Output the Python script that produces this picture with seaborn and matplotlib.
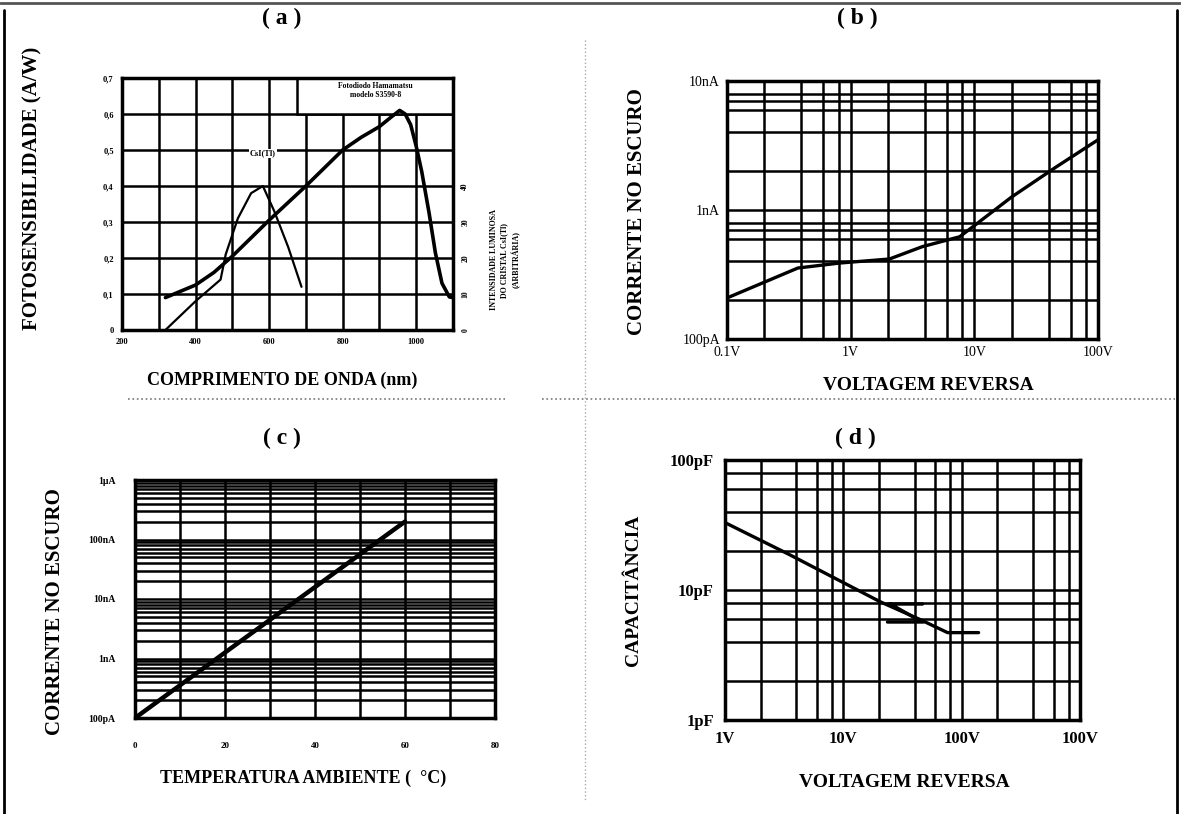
import numpy as np
import pandas as pd
import seaborn as sns
import matplotlib.pyplot as plt
from matplotlib.lines import Line2D
from matplotlib.patches import Rectangle

# (a) fotosensibilidade x comprimento de onda
comprimento_fotodiodo = [318, 400, 450, 500, 600, 700, 800, 850, 900, 930, 955, 970,
                         985, 1000, 1015, 1035, 1052, 1070, 1090, 1100]
sensibilidade_fotodiodo = [0.09, 0.125, 0.16, 0.205, 0.305, 0.40, 0.50, 0.535, 0.565, 0.59,
                           0.61, 0.60, 0.57, 0.51, 0.44, 0.325, 0.215, 0.13, 0.092, 0.09]
comprimento_csi = [318, 400, 468, 482, 515, 551, 583, 614, 652, 688]
intensidade_csi = [0, 8, 14, 21, 31, 38, 40, 33, 23, 12]
ticks_a_x = [200, 300, 400, 500, 600, 700, 800, 900, 1000, 1100]
rotulos_a_x = ["200", "", "400", "", "600", "", "800", "", "1000", ""]
ticks_a_y = [0, 0.1, 0.2, 0.3, 0.4, 0.5, 0.6, 0.7]
rotulos_a_y = ["0", "0,1", "0,2", "0,3", "0,4", "0,5", "0,6", "0,7"]
ticks_a_dir = [0, 10, 20, 30, 40]

# (b) corrente no escuro x voltagem reversa
tensao_b = [0.1, 0.374, 0.815, 2.06, 3.8, 7.6, 9.7, 20, 45.7, 100]
corrente_b = [2.08e-10, 3.55e-10, 3.88e-10, 4.17e-10, 5.2e-10, 6.2e-10, 7.4e-10,
              1.26e-9, 2.15e-9, 3.5e-9]
ticks_b_x = [0.1, 1, 10, 100]
rotulos_b_x = ["0.1V", "1V", "10V", "100V"]
ticks_b_y = [1e-10, 1e-9, 1e-8]
rotulos_b_y = ["100pA", "1nA", "10nA"]

# (c) corrente no escuro x temperatura
temperatura_c = [0, 60]
corrente_c = [1e-10, 2e-7]
ticks_c_x = [0, 10, 20, 30, 40, 50, 60, 70, 80]
rotulos_c_x = ["0", "", "20", "", "40", "", "60", "", "80"]
ticks_c_y = [1e-10, 1e-9, 1e-8, 1e-7, 1e-6]
rotulos_c_y = ["100pA", "1nA", "10nA", "100nA", "1µA"]

# (d) capacitância x voltagem reversa
tensao_d = [1, 3.55, 20.6, 45, 76, 139]
capacitancia_d = [33, 18.6, 8.1, 5.9, 4.7, 4.7]
marca_d_x = [23.6, 46.7, np.nan, 25.0, 43.0, np.nan, 23.6, 47.5]
marca_d_y = [7.8, 7.8, np.nan, 7.8, 5.9, np.nan, 5.67, 5.67]
ticks_d_x = [1, 10, 100, 1000]
rotulos_d_x = ["1V", "10V", "100V", "100V"]
ticks_d_y = [1, 10, 100]
rotulos_d_y = ["1pF", "10pF", "100pF"]

sns.set_style("white")
plt.rcParams['font.family'] = ['Liberation Serif', 'DejaVu Serif']
plt.rcParams['font.weight'] = 'bold'
plt.rcParams['text.color'] = 'black'
plt.rcParams['axes.labelcolor'] = 'black'
plt.rcParams['xtick.color'] = 'black'
plt.rcParams['ytick.color'] = 'black'

W, H = 1181, 814
fig = plt.figure(figsize=(W / 100, H / 100), dpi=100)


def eixo(l, t, r, b):
    return fig.add_axes([l / W, 1 - b / H, (r - l) / W, (b - t) / H])


def pos_rotulo(ax, px, py):
    bb = ax.get_position()
    return ((px / W - bb.x0) / bb.width, (1 - py / H - bb.y0) / bb.height)


def estilo(ax):
    ax.grid(True, which='both', color='black', lw=1.8)
    ax.set_axisbelow(True)
    for s in ax.spines.values():
        s.set_color('black')
        s.set_linewidth(2.5)
    ax.tick_params(which='both', length=0, colors='black')


def minor_log(inicio, fim, mult):
    return [m * 10.0 ** d for d in range(inicio, fim) for m in mult]


# ---------- (a)
ax_a = eixo(122, 78, 453, 330)
ax_a.set_xlim(200, 1100)
ax_a.set_ylim(0, 0.7)
ax_a.set_xticks(ticks_a_x, rotulos_a_x, fontsize=6)
ax_a.set_yticks(ticks_a_y, rotulos_a_y, fontsize=6)
estilo(ax_a)
ax_a.tick_params(pad=6)
ax_a.add_patch(Rectangle((675, 0.6), 425, 0.1, facecolor='white', edgecolor='black', lw=1.8, zorder=2))
ax_a.text(890, 0.665, "Fotodiodo Hamamatsu\nmodelo S3590-8", ha='center', va='center',
          fontsize=5.5, weight='bold', zorder=3, linespacing=1.2)
sns.lineplot(x=comprimento_fotodiodo, y=sensibilidade_fotodiodo, ax=ax_a, color='black',
             lw=2.6, sort=False, zorder=4)
ax_a.set_xlabel("COMPRIMENTO DE ONDA (nm)", fontsize=13, weight='bold')
ax_a.xaxis.set_label_coords(*pos_rotulo(ax_a, 282, 372))
ax_a.set_ylabel("FOTOSENSIBILIDADE (A/W)", fontsize=15, weight='bold')
ax_a.yaxis.set_label_coords(*pos_rotulo(ax_a, 42, 188))

ax_a2 = ax_a.twinx()
ax_a2.set_ylim(0, 70)
ax_a2.set_yticks(ticks_a_dir, [str(t) for t in ticks_a_dir], fontsize=5.5, rotation=90, va='center')
ax_a2.tick_params(length=0, pad=6)
ax_a2.grid(False)
for s in ax_a2.spines.values():
    s.set_visible(False)
sns.lineplot(x=comprimento_csi, y=intensidade_csi, ax=ax_a2, color='black', lw=1.6, sort=False)
ax_a2.text(583, 48, "CsI(Tl)", ha='center', va='bottom', fontsize=6, weight='bold',
           bbox=dict(facecolor='white', edgecolor='none', pad=0.5))
ax_a2.set_ylabel("INTENSIDADE LUMINOSA\nDO CRISTAL CsI(Tl)\n(ARBITRÁRIA)", fontsize=5.8,
                 weight='bold', linespacing=1.4)
ax_a2.yaxis.set_label_coords(*pos_rotulo(ax_a2, 490, 260))

# ---------- (b)
ax_b = eixo(727, 81, 1098, 339)
ax_b.set_xscale('log')
ax_b.set_yscale('log')
ax_b.set_xlim(0.1, 100)
ax_b.set_ylim(1e-10, 1e-8)
ax_b.set_xticks(ticks_b_x, rotulos_b_x, fontsize=10, weight='normal')
ax_b.set_xticks(minor_log(-1, 2, [2, 4, 6, 8]), minor=True)
ax_b.set_yticks(ticks_b_y, rotulos_b_y, fontsize=10, weight='normal')
ax_b.set_yticks(minor_log(-10, -8, [2, 4, 6, 7, 8]), minor=True)
ax_b.set_xticklabels([], minor=True)
ax_b.set_yticklabels([], minor=True)
estilo(ax_b)
ax_b.tick_params(pad=5)
sns.lineplot(x=tensao_b, y=corrente_b, ax=ax_b, color='black', lw=2.4, zorder=4)
ax_b.set_xlabel("VOLTAGEM REVERSA", fontsize=14, weight='bold')
ax_b.xaxis.set_label_coords(*pos_rotulo(ax_b, 928, 377))
ax_b.set_ylabel("CORRENTE NO ESCURO", fontsize=15, weight='bold')
ax_b.yaxis.set_label_coords(*pos_rotulo(ax_b, 647, 212))

# ---------- (c)
ax_c = eixo(135, 480, 495, 718)
ax_c.set_yscale('log')
ax_c.set_xlim(0, 80)
ax_c.set_ylim(1e-10, 1e-6)
ax_c.set_xticks(ticks_c_x, rotulos_c_x, fontsize=6.5)
ax_c.set_yticks(ticks_c_y, rotulos_c_y, fontsize=7)
ax_c.set_yticks(minor_log(-10, -6, [2, 3, 4, 5, 6, 7, 8, 9]), minor=True)
ax_c.set_yticklabels([], minor=True)
estilo(ax_c)
ax_c.tick_params(axis='x', length=3, width=2, pad=14)
ax_c.tick_params(axis='y', pad=14)
sns.lineplot(x=temperatura_c, y=corrente_c, ax=ax_c, color='black', lw=3.2, zorder=4)
ax_c.set_xlabel("TEMPERATURA AMBIENTE (  °C)", fontsize=13, weight='bold')
ax_c.xaxis.set_label_coords(*pos_rotulo(ax_c, 303, 770))
ax_c.set_ylabel("CORRENTE NO ESCURO", fontsize=15, weight='bold')
ax_c.yaxis.set_label_coords(*pos_rotulo(ax_c, 65, 612))

# ---------- (d)
ax_d = eixo(725, 460, 1080, 720)
ax_d.set_xscale('log')
ax_d.set_yscale('log')
ax_d.set_xlim(1, 1000)
ax_d.set_ylim(1, 100)
ax_d.set_xticks(ticks_d_x, rotulos_d_x, fontsize=12)
ax_d.set_xticks(minor_log(0, 3, [2, 4, 6, 8]), minor=True)
ax_d.set_yticks(ticks_d_y, rotulos_d_y, fontsize=12)
ax_d.set_yticks(minor_log(0, 2, [2, 4, 6, 8]), minor=True)
ax_d.set_xticklabels([], minor=True)
ax_d.set_yticklabels([], minor=True)
estilo(ax_d)
ax_d.tick_params(pad=8)
sns.lineplot(x=tensao_d, y=capacitancia_d, ax=ax_d, color='black', lw=2.4, zorder=4)
ax_d.plot(marca_d_x, marca_d_y, color='black', lw=2.4, zorder=4)
ax_d.set_xlabel("VOLTAGEM REVERSA", fontsize=14, weight='bold')
ax_d.xaxis.set_label_coords(*pos_rotulo(ax_d, 904, 774))
ax_d.set_ylabel("CAPACITÂNCIA", fontsize=14, weight='bold')
ax_d.yaxis.set_label_coords(*pos_rotulo(ax_d, 642, 590))

# títulos
for txt, x, y in [("( a )", 282, 18), ("( b )", 857, 18), ("( c )", 282, 438), ("( d )", 855, 438)]:
    fig.text(x / W, 1 - y / H, txt, ha='center', va='center', fontsize=17, weight='bold')

# moldura e separadores
def linha(x0, y0, x1, y1, **kw):
    fig.add_artist(Line2D([x0 / W, x1 / W], [1 - y0 / H, 1 - y1 / H], **kw))

linha(0, 3, W, 3, color='#555555', lw=2)
linha(4, 10, 4, H, color='black', lw=2)
linha(1177, 10, 1177, H, color='black', lw=2)
linha(128, 399, 505, 399, color='#777777', lw=1.2, ls=':')
linha(542, 399, 1175, 399, color='#777777', lw=1.2, ls=':')
linha(585, 40, 585, 800, color='#aaaaaa', lw=1, ls=':')

fig.savefig("out.png", dpi=100, facecolor='white')
